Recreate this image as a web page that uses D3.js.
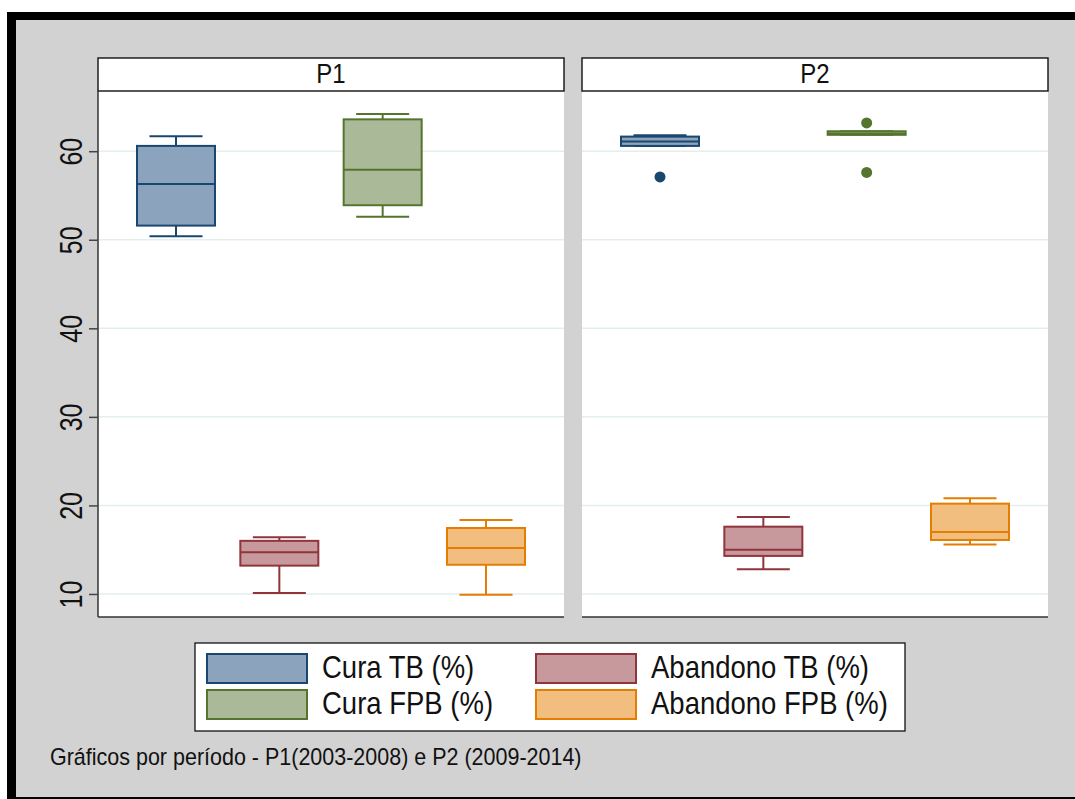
<!DOCTYPE html>
<html>
<head>
<meta charset="utf-8">
<script src="https://cdn.jsdelivr.net/npm/d3@7"></script>
<style>
  html, body { margin: 0; padding: 0; background: #ffffff; }
  svg { display: block; font-family: "Liberation Sans", Arial, sans-serif; }
</style>
</head>
<body>
<svg id="chart" width="1075" height="799"></svg>
<script>
// Series (variables) shown in each period panel, left to right
const series = ["Cura TB (%)", "Abandono TB (%)", "Cura FPB (%)", "Abandono FPB (%)"];
const periods = ["P1", "P2"];
const yTicks = [10, 20, 30, 40, 50, 60];

// Box statistics: [lower whisker, Q1, median, Q3, upper whisker]
const p1Stats = [
  [50.4, 51.6, 56.3, 60.6, 61.7],
  [10.1, 13.2, 14.7, 16.0, 16.4],
  [52.6, 53.9, 57.9, 63.6, 64.2],
  [9.9, 13.3, 15.2, 17.45, 18.35]
];
const p2Stats = [
  [60.6, 60.6, 61.1, 61.65, 61.8],
  [12.8, 14.3, 15.0, 17.6, 18.7],
  [61.85, 61.85, 62.0, 62.25, 62.25],
  [15.6, 16.1, 17.0, 20.2, 20.8]
];
// Outside values
const p1Outliers = [[], [], [], []];
const p2Outliers = [[57.1], [], [63.2, 57.6], []];

const caption = "Gráficos por período - P1(2003-2008) e P2 (2009-2014)";

const strokeColors = ["#1a476f", "#90353b", "#55752f", "#e37e00"];
const fillColors = ["#8ca3bd", "#c8999c", "#aab997", "#f1be80"];

const svg = d3.select("#chart");

// Frame: black edges and grey graph region
svg.append("rect").attr("x", 7).attr("y", 12).attr("width", 1068).attr("height", 787).attr("fill", "#000");
svg.append("rect").attr("x", 16).attr("y", 20).attr("width", 1059).attr("height", 777).attr("fill", "#d2d2d2");

const panelLeft = [98, 582];
const panelWidth = 466;
const headerTop = 58, plotTop = 91, plotBottom = 617;

const y = d3.scaleLinear().domain([7.4, 66.8]).range([plotBottom, plotTop]);
const x = d3.scalePoint().domain(series).range([78, 388]);
const boxW = 78, capW = 53;

const statsByPeriod = [p1Stats, p2Stats];
const outByPeriod = [p1Outliers, p2Outliers];

// text drawn slightly taller than wide, as in the exported graph
function tallText(sel, px, py, size, str, anchor) {
  return sel.append("text")
    .attr("transform", `translate(${px},${py}) scale(1,1.12)`)
    .attr("text-anchor", anchor || "start")
    .attr("font-size", size).attr("fill", "#111").text(str);
}

periods.forEach((p, pi) => {
  const g = svg.append("g").attr("transform", `translate(${panelLeft[pi]},0)`);
  // plot area
  g.append("rect").attr("x", 0).attr("y", plotTop).attr("width", panelWidth)
    .attr("height", plotBottom - plotTop).attr("fill", "#fff");
  // header strip
  g.append("rect").attr("x", 0).attr("y", headerTop).attr("width", panelWidth)
    .attr("height", plotTop - headerTop).attr("fill", "#fff")
    .attr("stroke", "#111").attr("stroke-width", 1.4);
  tallText(g, panelWidth / 2, 83, 24, p, "middle");

  // gridlines
  g.selectAll("line.grid").data(yTicks).join("line").attr("class", "grid")
    .attr("x1", 0).attr("x2", panelWidth)
    .attr("y1", d => y(d)).attr("y2", d => y(d))
    .attr("stroke", "#e4eef0").attr("stroke-width", 1.5);

  // bottom axis line
  g.append("line").attr("x1", 0).attr("x2", panelWidth)
    .attr("y1", plotBottom).attr("y2", plotBottom)
    .attr("stroke", "#333").attr("stroke-width", 1.5);

  const stats = statsByPeriod[pi];
  series.forEach((s, si) => {
    const [lw, q1, med, q3, uw] = stats[si];
    const cx = x(s);
    const col = strokeColors[si];
    const bg = g.append("g");
    // whiskers
    bg.append("line").attr("x1", cx).attr("x2", cx).attr("y1", y(q3)).attr("y2", y(uw))
      .attr("stroke", col).attr("stroke-width", 2);
    bg.append("line").attr("x1", cx).attr("x2", cx).attr("y1", y(q1)).attr("y2", y(lw))
      .attr("stroke", col).attr("stroke-width", 2);
    bg.append("line").attr("x1", cx - capW / 2).attr("x2", cx + capW / 2)
      .attr("y1", y(uw)).attr("y2", y(uw)).attr("stroke", col).attr("stroke-width", 2);
    bg.append("line").attr("x1", cx - capW / 2).attr("x2", cx + capW / 2)
      .attr("y1", y(lw)).attr("y2", y(lw)).attr("stroke", col).attr("stroke-width", 2);
    // box
    bg.append("rect").attr("x", cx - boxW / 2).attr("y", y(q3))
      .attr("width", boxW).attr("height", Math.max(0.5, y(q1) - y(q3)))
      .attr("fill", fillColors[si]).attr("stroke", col).attr("stroke-width", 2);
    // median
    bg.append("line").attr("x1", cx - boxW / 2).attr("x2", cx + boxW / 2)
      .attr("y1", y(med)).attr("y2", y(med)).attr("stroke", col).attr("stroke-width", 2);
    // outside values
    bg.selectAll("circle").data(outByPeriod[pi][si]).join("circle")
      .attr("cx", cx).attr("cy", d => y(d)).attr("r", 5.5).attr("fill", col);
  });
});

// Left axis of first panel
const axisG = svg.append("g").attr("transform", `translate(${panelLeft[0]},0)`);
axisG.append("line").attr("x1", 0).attr("x2", 0).attr("y1", plotTop).attr("y2", plotBottom)
  .attr("stroke", "#333").attr("stroke-width", 1.5);
const yAxis = d3.axisLeft(y).tickValues(yTicks).tickSize(9).tickPadding(0).tickFormat(d3.format("d"));
const ya = axisG.append("g").call(yAxis);
ya.select(".domain").remove();
ya.selectAll(".tick line").attr("stroke", "#444").attr("stroke-width", 1.5);
ya.selectAll(".tick text")
  .attr("x", 0).attr("dy", 0).attr("transform", "translate(-16,0) rotate(-90) scale(1,1.25)")
  .attr("text-anchor", "middle").attr("font-size", 25).attr("fill", "#111")
  .attr("font-family", "Liberation Sans, Arial, sans-serif");

// Legend
const legend = svg.append("g");
legend.append("rect").attr("x", 195).attr("y", 643).attr("width", 710).attr("height", 88)
  .attr("fill", "#fff").attr("stroke", "#111").attr("stroke-width", 1.3);
const legX = [207, 536], legY = [654, 690];
series.forEach((s, i) => {
  const col = i % 2, row = Math.floor(i / 2);
  legend.append("rect").attr("x", legX[col]).attr("y", legY[row]).attr("width", 100).attr("height", 29)
    .attr("fill", fillColors[i]).attr("stroke", strokeColors[i]).attr("stroke-width", 2);
  tallText(legend, legX[col] + 115, legY[row] + 24, 27.5, s);
});

// Caption
tallText(svg, 50, 765, 21.5, caption);
</script>
</body>
</html>
